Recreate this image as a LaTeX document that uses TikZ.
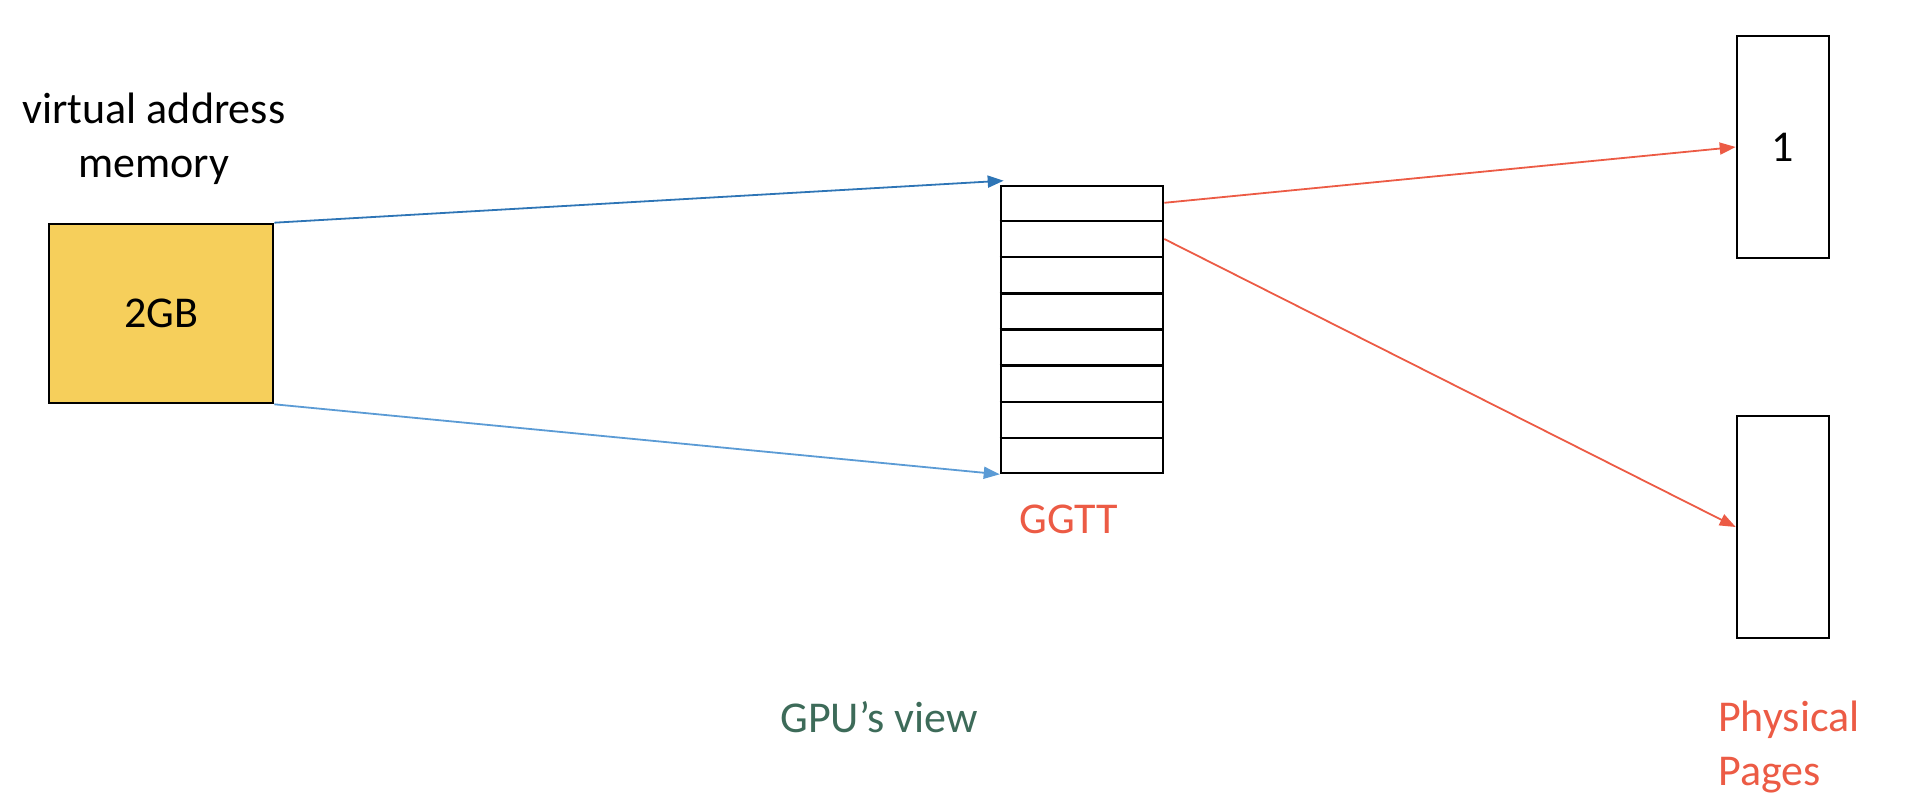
\documentclass[tikz,border=0pt]{standalone}
\usepackage{fontspec}
\setmainfont{Carlito}
\usetikzlibrary{arrows.meta,calc}
\definecolor{memyellow}{HTML}{F6CF5B}
\definecolor{darkblue}{HTML}{2E75B6}
\definecolor{lightblue}{HTML}{5B9BD5}
\definecolor{pagered}{HTML}{EC5B45}
\definecolor{viewgreen}{HTML}{3D6B59}
\begin{document}
\begin{tikzpicture}[x=1pt,y=-1pt,
box/.style={draw=black, line width=2.6pt, inner sep=0pt},
maplink/.style={line width=1.8pt, -{Triangle[length=16pt,width=12pt]}},
lbl/.style={font=\fontsize{44}{54}\selectfont}]
\useasboundingbox (0,0) rectangle (1910,802);
\node[lbl, align=center, anchor=base] (vtitle) at (154,178) {virtual address\\memory};
\node[box, fill=memyellow, minimum width=224pt, minimum height=179pt, lbl] (vmem) at (161,313.5) {2GB};
\node[box, minimum width=162pt, minimum height=287pt] (ggtt) at (1082,329.5) {};
\foreach \i in {1,...,7}
  \draw[line width=2.6pt] ($(ggtt.north west)!\i/8!(ggtt.south west)$) -- ($(ggtt.north east)!\i/8!(ggtt.south east)$);
\node[box, minimum width=92pt, minimum height=222pt, lbl] (page1) at (1783,147) {1};
\node[box, minimum width=92pt, minimum height=222pt] (page2) at (1783,527) {};
\node[lbl, text=pagered, anchor=base] (ggttlbl) at (1069,533) {GGTT};
\node[lbl, text=viewgreen, anchor=base] (gpuview) at (879,732) {GPU’s view};
\node[lbl, text=pagered, align=left, anchor=base west, inner sep=0pt] (physlbl) at (1718,785) {Physical\\Pages};
\coordinate (row1) at ($(ggtt.north east)!0.5/8!(ggtt.south east)$);
\coordinate (row2) at ($(ggtt.north east)!1.5/8!(ggtt.south east)$);
\draw[maplink, darkblue] (vmem.north east) -- ([shift={(4pt,4pt)}]ggtt.north west);
\draw[maplink, lightblue] (vmem.south east) -- (ggtt.south west);
\draw[maplink, pagered] (row1) -- (page1.west);
\draw[maplink, pagered] (row2) -- (page2.west);
\end{tikzpicture}
\end{document}
